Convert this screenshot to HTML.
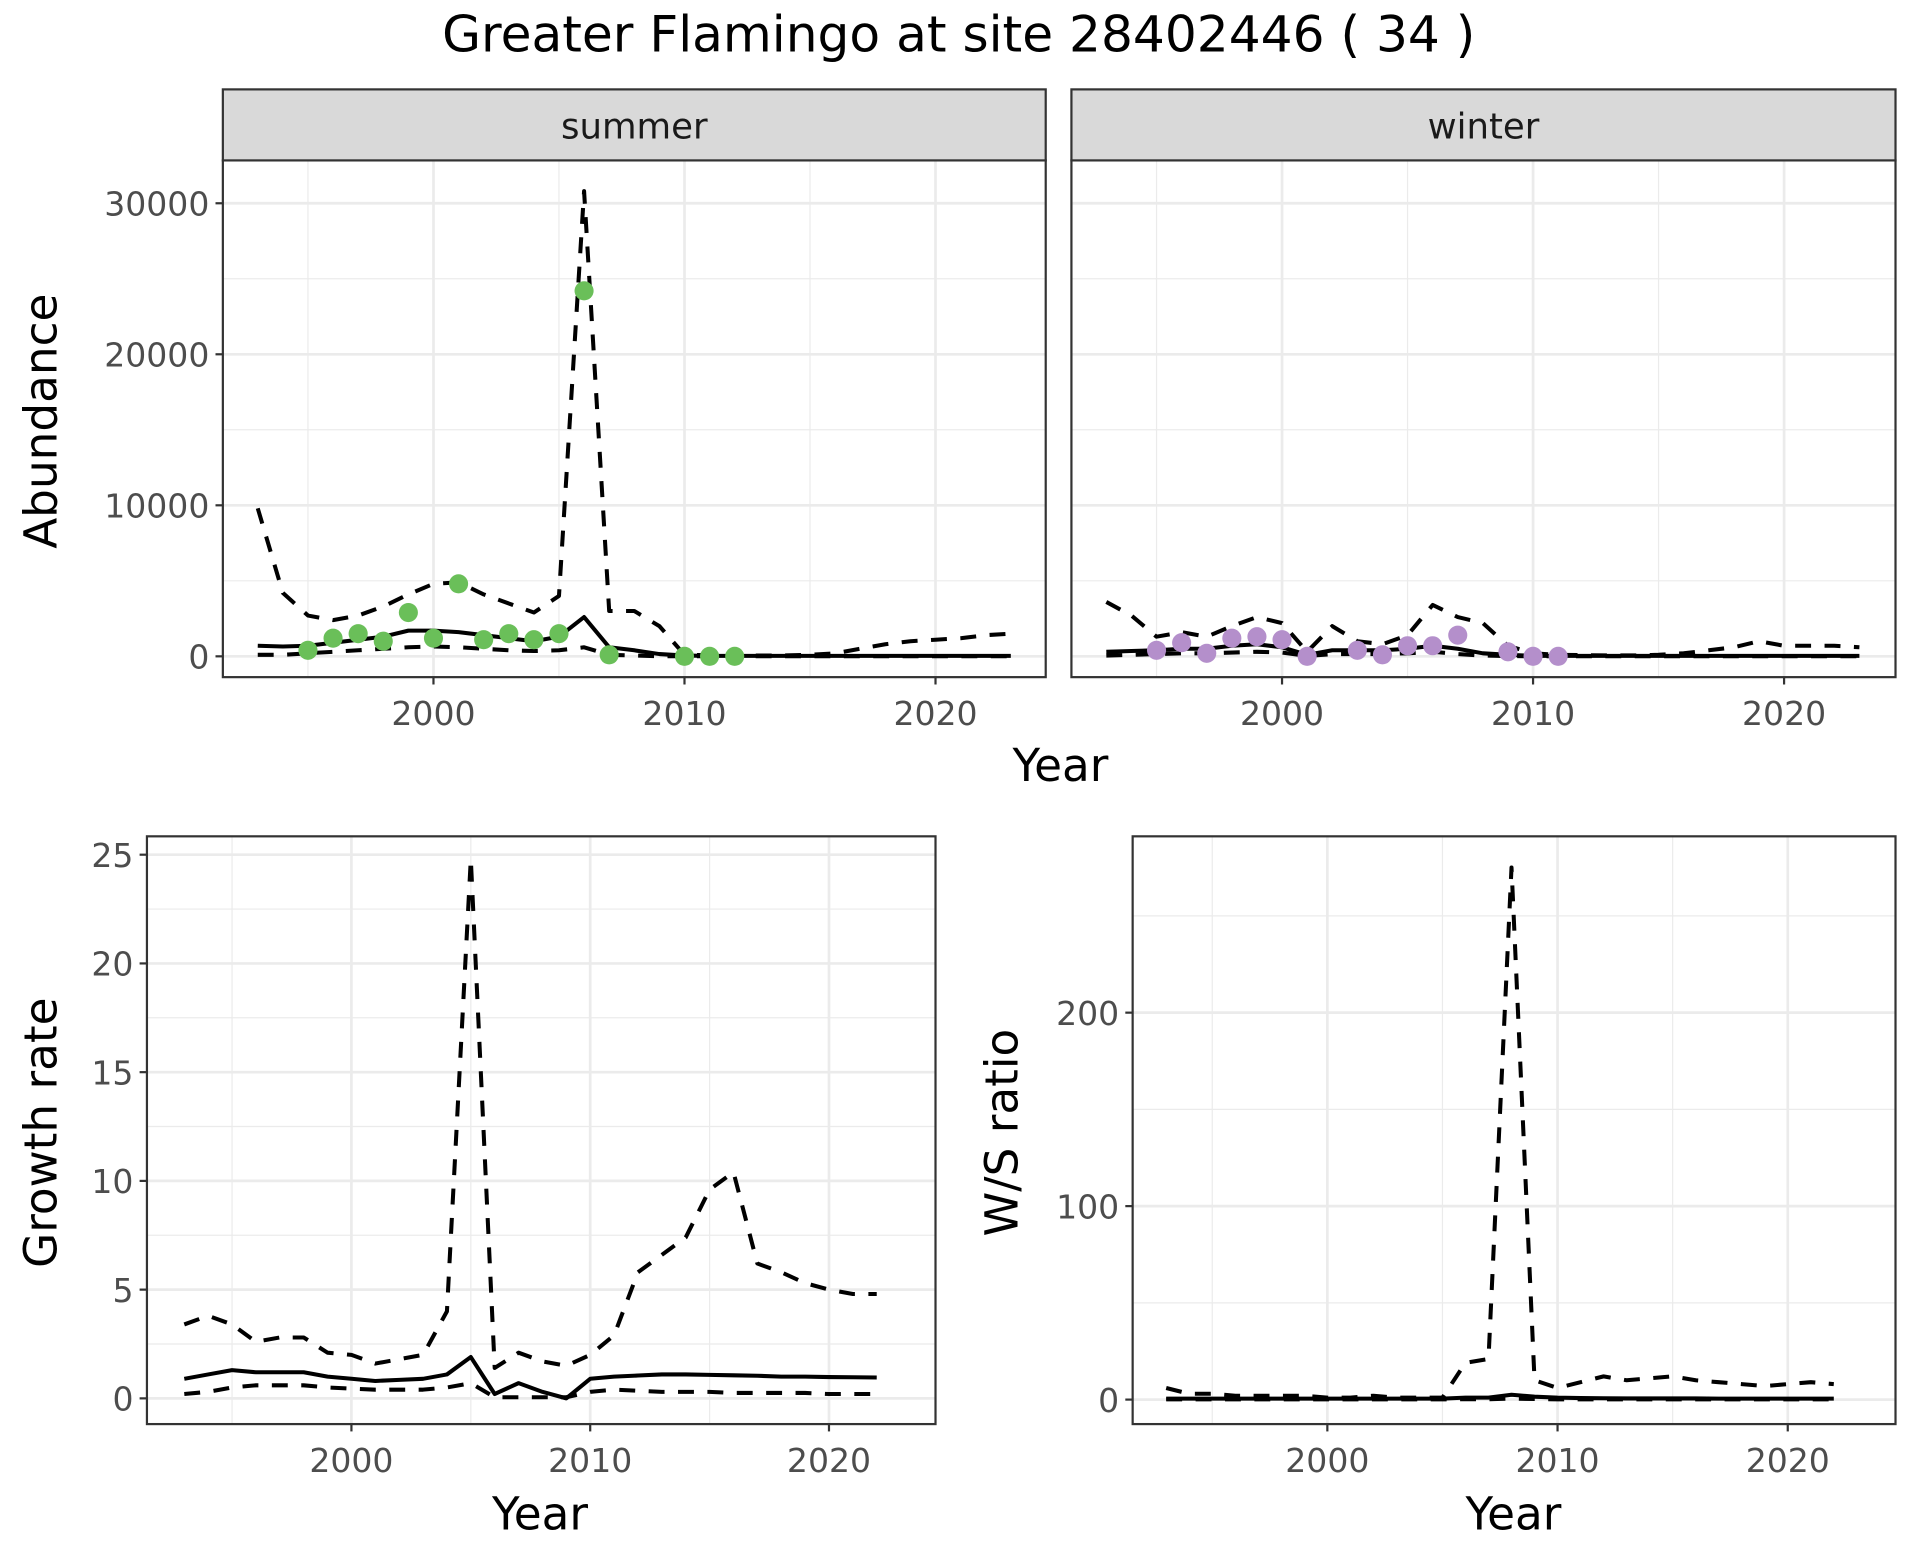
<!DOCTYPE html>
<html><head><meta charset="utf-8"><style>
html,body{margin:0;padding:0;background:#fff;}
svg{display:block;font-family:"DejaVu Sans","Liberation Sans",sans-serif;}
</style></head><body>
<svg id="chart" width="1920" height="1560" viewBox="0 0 1568 1274" preserveAspectRatio="none" xmlns="http://www.w3.org/2000/svg">
<rect width="1568" height="1274" fill="#fff"/>
<text x="783" y="42" font-size="41" text-anchor="middle" fill="#000">Greater Flamingo at site 28402446 ( 34 )</text>
</svg>
<script>
// ---------- data ----------
const absYears = [1993,1994,1995,1996,1997,1998,1999,2000,2001,2002,2003,2004,2005,2006,2007,2008,2009,2010,2011,2012,2013,2014,2015,2016,2017,2018,2019,2020,2021,2022,2023];
const summerUpper = [9800,4200,2700,2400,2700,3300,4100,4800,4900,4100,3500,2900,4000,30800,3000,3000,2000,100,80,60,50,60,100,200,500,800,1000,1100,1200,1400,1500];
const summerMid = [700,650,700,900,1100,1300,1700,1700,1600,1400,1200,1000,1300,2600,600,400,150,50,30,30,30,30,30,30,30,30,30,30,30,30,30];
const summerLower = [100,100,200,300,400,500,600,650,600,500,400,350,400,600,100,50,10,5,5,5,5,5,5,5,5,5,5,5,5,5,5];
const summerPtYears = [1995,1996,1997,1998,1999,2000,2001,2002,2003,2004,2005,2006,2007,2010,2011,2012];
const summerPts = [400,1200,1500,1000,2900,1200,4800,1100,1500,1100,1500,24200,100,0,0,0];
const winterUpper = [3600,2700,1300,1600,1300,2000,2600,2200,300,2000,1000,800,1400,3400,2600,2200,700,200,100,80,60,60,100,200,400,600,1000,700,700,700,600];
const winterMid = [300,350,400,500,500,700,800,600,100,400,400,400,500,700,500,200,100,30,30,30,30,30,30,30,30,30,30,30,30,30,30];
const winterLower = [50,100,150,200,200,250,300,250,20,150,150,150,200,300,150,50,20,5,5,5,5,5,5,5,5,5,5,5,5,5,5];
const winterPtYears = [1995,1996,1997,1998,1999,2000,2001,2003,2004,2005,2006,2007,2009,2010,2011];
const winterPts = [400,900,200,1200,1300,1100,0,400,100,700,700,1400,300,0,0];
const grYears = [1993,1994,1995,1996,1997,1998,1999,2000,2001,2002,2003,2004,2005,2006,2007,2008,2009,2010,2011,2012,2013,2014,2015,2016,2017,2018,2019,2020,2021,2022];
const grUpper = [3.4,3.8,3.4,2.6,2.8,2.8,2.1,2.0,1.6,1.8,2.0,4.0,24.8,1.4,2.1,1.7,1.5,2.0,2.9,5.8,6.6,7.4,9.6,10.4,6.2,5.8,5.3,5.0,4.8,4.8];
const grMid = [0.9,1.1,1.3,1.2,1.2,1.2,1.0,0.9,0.8,0.85,0.9,1.1,1.9,0.2,0.7,0.3,0.0,0.9,1.0,1.05,1.1,1.1,1.08,1.06,1.04,1.0,1.0,0.98,0.97,0.96];
const grLower = [0.2,0.3,0.5,0.6,0.6,0.6,0.5,0.45,0.4,0.4,0.4,0.5,0.7,0.05,0.05,0.05,0.05,0.3,0.4,0.35,0.3,0.3,0.3,0.25,0.25,0.25,0.25,0.2,0.2,0.2];
const wsUpper = [6,3,3,2,2,2,2,1,1,2,1,1,1,19,21,275,10,6,9,12,10,11,12,10,9,8,7,8,9,8];
const wsMid = [0.5,0.5,0.5,0.5,0.5,0.5,0.5,0.5,0.5,0.5,0.5,0.5,0.5,1,1,2.5,1.5,1,0.8,0.7,0.6,0.6,0.6,0.6,0.5,0.5,0.5,0.5,0.5,0.5];
const wsLower = [0.1,0.1,0.1,0.1,0.1,0.1,0.1,0.1,0.1,0.1,0.1,0.1,0.1,0.2,0.2,0.5,0.3,0.1,0.1,0.1,0.1,0.1,0.1,0.1,0.1,0.1,0.1,0.1,0.1,0.1];
const xTicks = [2000,2010,2020];
const xMinor = [1995,2005,2015];
const absTicks = [0,10000,20000,30000];
const absMinor = [5000,15000,25000];
const grTicks = [0,5,10,15,20,25];
const grMinor = [2.5,7.5,12.5,17.5,22.5];
const wsTicks = [0,100,200];
const wsMinor = [50,150,250];

const NS = "http://www.w3.org/2000/svg";
const svg = document.getElementById('chart');
function mk(tag, attrs, parent){
  const e = document.createElementNS(NS, tag);
  for (const k in attrs) e.setAttribute(k, attrs[k]);
  (parent||svg).appendChild(e); return e;
}
function lin(d0,d1,r0,r1){ return v => r0 + (v-d0)/(d1-d0)*(r1-r0); }

function panel(name, p){
  const g = mk('g', {});
  
  
  const x = lin(2000,2010,p.x2000,p.x2010), y = lin(p.v0,p.v1,p.y0,p.y1);
  mk('rect',{x:p.L,y:p.T,width:p.R-p.L,height:p.B-p.T,fill:'#fff'},g);
  p.yMinor.forEach(v=>{const l=mk('line',{x1:p.L,x2:p.R,y1:y(v),y2:y(v),stroke:'#ebebeb','stroke-width':1},g);});
  xMinor.forEach(v=>{const l=mk('line',{x1:x(v),x2:x(v),y1:p.T,y2:p.B,stroke:'#ebebeb','stroke-width':1},g);});
  p.yTicks.forEach(v=>{const l=mk('line',{x1:p.L,x2:p.R,y1:y(v),y2:y(v),stroke:'#ebebeb','stroke-width':2.2},g);});
  xTicks.forEach(v=>{const l=mk('line',{x1:x(v),x2:x(v),y1:p.T,y2:p.B,stroke:'#ebebeb','stroke-width':2.2},g);});
  const series = [[p.upper,true],[p.lower,true],[p.mid,false]];
  series.forEach(([arr,dash],i)=>{
    const d = arr.map((v,j)=>(j?'L':'M')+x(p.years[j]).toFixed(2)+' '+y(v).toFixed(2)).join(' ');
    const pa = mk('path',{d:d,fill:'none',stroke:'#000','stroke-width':3.3,'stroke-dasharray':dash?'13 11':'none','stroke-linejoin':'round'},g);
    
    
  });
  if (p.pts){
    p.pts.forEach((v,j)=>{
      const c = mk('circle',{cx:x(p.ptYears[j]),cy:y(v),r:7.8,fill:p.color},g);
      
      
    });
  }
  mk('rect',{x:p.L,y:p.T,width:p.R-p.L,height:p.B-p.T,fill:'none',stroke:'#333','stroke-width':1.8},g);
  if (p.showY){
    p.yTicks.forEach((v,j)=>{
      mk('line',{x1:p.L-6,x2:p.L,y1:y(v),y2:y(v),stroke:'#333','stroke-width':1.8},g);
      const t = mk('text',{x:p.L-11,y:y(v)+10,'font-size':27,'text-anchor':'end',fill:'#4d4d4d'},g);
      t.textContent = p.yLabels[j];
      
      
    });
  }
  xTicks.forEach(v=>{
    mk('line',{x1:x(v),x2:x(v),y1:p.B,y2:p.B+6,stroke:'#333','stroke-width':1.8},g);
    const t = mk('text',{x:x(v),y:p.B+39,'font-size':27,'text-anchor':'middle',fill:'#4d4d4d'},g);
    t.textContent = v;
    
    
  });
  if (p.strip){
    const s = mk('rect',{x:p.L,y:73,width:p.R-p.L,height:p.T-73,fill:'#d9d9d9',stroke:'#333','stroke-width':1.8},g);
    
    
    const t = mk('text',{x:(p.L+p.R)/2,y:113,'font-size':29,'text-anchor':'middle',fill:'#1a1a1a'},g);
    t.textContent = p.strip;
    
    
  }
}
function label(txt, x, y, rot, name){
  const t = mk('text',{x:x,y:y,'font-size':37,'text-anchor':'middle',fill:'#000',transform:rot?`rotate(-90 ${x} ${y})`:''});
  t.textContent = txt;
  
  
}
const absLabels = absTicks.map(String);
panel('summer-panel',{L:182,R:854,T:131,B:553,x2000:354,x2010:559,v0:0,v1:30000,y0:536,y1:166,
  yTicks:absTicks,yMinor:absMinor,yLabels:absLabels,showY:true,years:absYears,
  upper:summerUpper,mid:summerMid,lower:summerLower,pts:summerPts,ptYears:summerPtYears,color:'#6abf59',strip:'summer'});
panel('winter-panel',{L:875,R:1548,T:131,B:553,x2000:1047,x2010:1252,v0:0,v1:30000,y0:536,y1:166,
  yTicks:absTicks,yMinor:absMinor,yLabels:absLabels,showY:false,years:absYears,
  upper:winterUpper,mid:winterMid,lower:winterLower,pts:winterPts,ptYears:winterPtYears,color:'#b48fcb',strip:'winter'});
panel('growth-rate-panel',{L:120,R:764,T:683,B:1163,x2000:287,x2010:482,v0:0,v1:25,y0:1142,y1:698,
  yTicks:grTicks,yMinor:grMinor,yLabels:grTicks.map(String),showY:true,years:grYears,
  upper:grUpper,mid:grMid,lower:grLower});
panel('ws-ratio-panel',{L:925,R:1548,T:683,B:1163,x2000:1084,x2010:1272,v0:0,v1:200,y0:1143,y1:827,
  yTicks:wsTicks,yMinor:wsMinor,yLabels:wsTicks.map(String),showY:true,years:grYears,
  upper:wsUpper,mid:wsMid,lower:wsLower});
label('Abundance',46,344,true,'y-axis-title-abundance');
label('Year',866,638,false,'x-axis-title-top');
label('Growth rate',46,925,true,'y-axis-title-growth');
label('Year',441,1249,false,'x-axis-title-growth');
label('W/S ratio',831,925,true,'y-axis-title-ws');
label('Year',1236,1249,false,'x-axis-title-ws');
</script>
</body></html>
